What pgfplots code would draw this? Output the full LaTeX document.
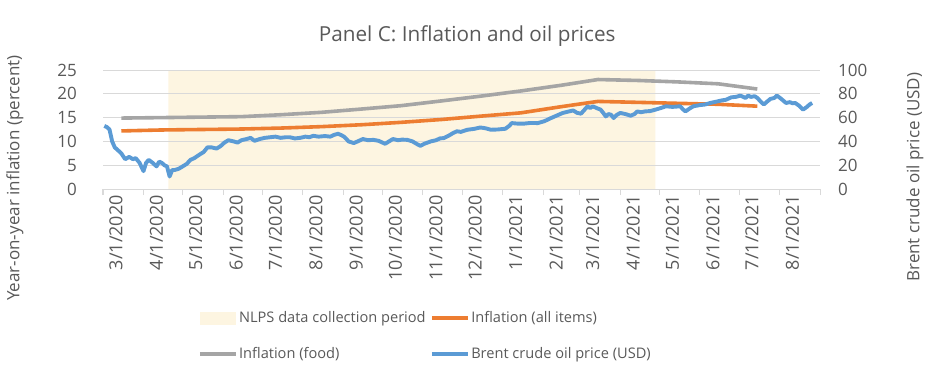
\documentclass[border=0pt]{standalone}
\usepackage{pgfplots}
\pgfplotsset{compat=1.18}
\usepackage{fontspec}
\setmainfont{Open Sans}
\usetikzlibrary{calc}
\definecolor{cOrange}{HTML}{ED7D31}
\definecolor{cGray}{HTML}{A5A5A5}
\definecolor{cBlue}{HTML}{5B9BD5}
\definecolor{cShade}{HTML}{FDF5E1}
\definecolor{cGrid}{HTML}{D9D9D9}
\definecolor{cText}{HTML}{595959}

\pgfplotstableread{
day val
14 12.2
45 12.4
75 12.5
106 12.6
136 12.8
167 13.1
198 13.5
228 14.0
259 14.6
289 15.3
320 16.0
351 17.3
379 18.4
410 18.2
440 18.0
471 17.8
501 17.4
}\allitems

\pgfplotstableread{
day val
14 14.9
45 15.0
75 15.1
106 15.2
136 15.6
167 16.1
198 16.8
228 17.5
259 18.5
289 19.5
320 20.6
351 21.8
379 23.0
410 22.8
440 22.5
471 22.1
501 21.0
}\food

\pgfplotstableread{
day val
1 53
3 52
5 50
7 40
9 35
11 33
14 30
17 25
20 27
23 25
25 26
28 22
31 15
33 22
35 24.5
38 22
41 19
43 23
45 22
47 20
49 19
51 10.5
53 16
55 16
58 17
61 19
64 21
67 24.5
70 26
74 29
77 31
80 35
83 35
87 34
90 36
93 39
96 41
100 40
103 39
106 41
110 42
113 43
116 40.5
120 42
124 43
128 43.5
132 44
136 43
140 43.5
143 43.5
147 42.5
151 43
155 44
158 43.5
161 44.7
165 44
170 44.5
174 44
177 45.5
180 46.4
183 45
185 43.6
188 40
192 38.6
195 40
199 42
203 41
207 41.3
211 40.5
216 38
219 40
222 42
226 41
229 41.5
233 41.3
237 40
240 38
243 36.3
246 38
251 40
255 41
258 42.5
261 42.8
265 45
268 47
271 48.5
274 48
279 49.8
284 50.5
289 51.7
293 51
297 49.8
302 50
308 50.6
311 53
313 55.4
317 55
322 54.9
327 55.5
333 55.4
338 57
343 59.6
347 61.5
352 63.9
356 65
360 66
363 64
366 63.3
369 67
371 69.5
373 68
375 69.5
378 68
381 66.7
383 64
385 61
387 63
389 62.4
391 59.6
393 62
396 63.9
400 63
404 61.6
407 63
409 65.2
412 64.5
415 65.2
419 65.5
423 66.7
427 68
431 69.5
436 69
442 69.5
444 67
446 65.2
449 67.5
452 69.5
457 70.5
461 71
465 72.3
470 73.5
474 74.5
477 75
481 77
485 77.5
488 78.5
492 76.5
494 78.5
496 77.4
499 78
501 76.5
504 73
506 71
508 73
511 75.7
514 76.5
516 78.5
519 76
523 72.3
526 73
528 72
530 72.3
533 70
536 66.7
539 69
541 71
543 72.3
}\oil

\pgfplotsset{
  myaxis/.style={
    set layers,
    scale only axis,
    width=717pt, height=119pt,
    xmin=0, xmax=549,
    font=\fontsize{17}{20}\selectfont,
    /pgf/number format/assume math mode=true,
    tick label style={text=cText},
    label style={text=cText},
  }
}

\begin{document}
\begin{tikzpicture}
\begin{axis}[
  myaxis,
  ymin=0, ymax=25,
  axis x line*=bottom,
  axis y line*=left,
  x axis line style={cGrid, line width=1pt},
  y axis line style={draw=none},
  xtick={0,31,61,92,122,153,184,214,245,275,306,337,365,396,426,457,487,518,549},
  xticklabels={3/1/2020,4/1/2020,5/1/2020,6/1/2020,7/1/2020,8/1/2020,9/1/2020,10/1/2020,11/1/2020,12/1/2020,1/1/2021,2/1/2021,3/1/2021,4/1/2021,5/1/2021,6/1/2021,7/1/2021,8/1/2021,{}},
  xticklabel style={rotate=90, anchor=east, inner sep=0pt, yshift=-13pt, font=\fontsize{18}{20}\selectfont},
  xtick style={cGrid, line width=1pt},
  tick align=outside,
  major tick length=6pt,
  ytick={0,5,...,25},
  ytick style={draw=none},
  yticklabel style={anchor=east, inner sep=0pt, xshift=-20pt},
  ymajorgrids,
  grid style={cGrid, line width=1pt},
  title={Panel C: Inflation and oil prices},
  title style={at={(rel axis cs:0.508,1.235)}, anchor=center, font=\fontsize{20.7}{23}\selectfont, text=cText},
  ylabel={Year-on-year inflation (percent)},
  ylabel style={at={(rel axis cs:-0.1227,0.092)}, anchor=center, rotate=0},
  clip=false,
]
\addplot[on layer=axis background, fill=cShade, draw=none] coordinates {(50,0) (50,25) (423,25) (423,0)} \closedcycle;
\addplot[cOrange, line width=3.6pt, line join=round] table[x=day,y=val] {\allitems};
\addplot[cGray, line width=3.6pt, line join=round] table[x=day,y=val] {\food};
\coordinate (sw) at (rel axis cs:0,0);
\coordinate (ne) at (rel axis cs:1,1);
\end{axis}
\begin{axis}[
  myaxis,
  ymin=0, ymax=100,
  axis x line=none,
  axis y line*=right,
  y axis line style={draw=none},
  ytick={0,20,...,100},
  ytick style={draw=none},
  yticklabel style={anchor=west, inner sep=0pt, xshift=18pt},
  ylabel={Brent crude oil price (USD)},
  ylabel style={at={(rel axis cs:1.1325,0.1)}, anchor=center, rotate=0},
  legend columns=2,
  legend cell align=left,
  legend style={at={(rel axis cs:0.128,-1.0)}, anchor=north west, draw=none, fill=none,
    font=\fontsize{14.6}{17}\selectfont, text=cText,
    /tikz/every even column/.append style={column sep=3pt},
    row sep=20pt,
    nodes={inner sep=1.5pt}},
  legend image code/.code={\draw[#1, line width=3.6pt] (0pt,0pt) -- (36pt,0pt);},
]
\addlegendimage{legend image code/.code={\fill[cShade] (0pt,-6pt) rectangle (35pt,6pt);}}
\addlegendentry{NLPS data collection period}
\addlegendimage{cOrange}
\addlegendentry{Inflation (all items)}
\addlegendimage{cGray}
\addlegendentry{Inflation (food)}
\addplot[cBlue, line width=3.9pt, line join=round] table[x=day,y=val] {\oil};
\addlegendentry{Brent crude oil price (USD)}
\end{axis}
\pgfresetboundingbox
\path[use as bounding box] ($(sw)+(-103pt,-192pt)$) rectangle ($(ne)+(111pt,70pt)$);
\end{tikzpicture}
\end{document}
